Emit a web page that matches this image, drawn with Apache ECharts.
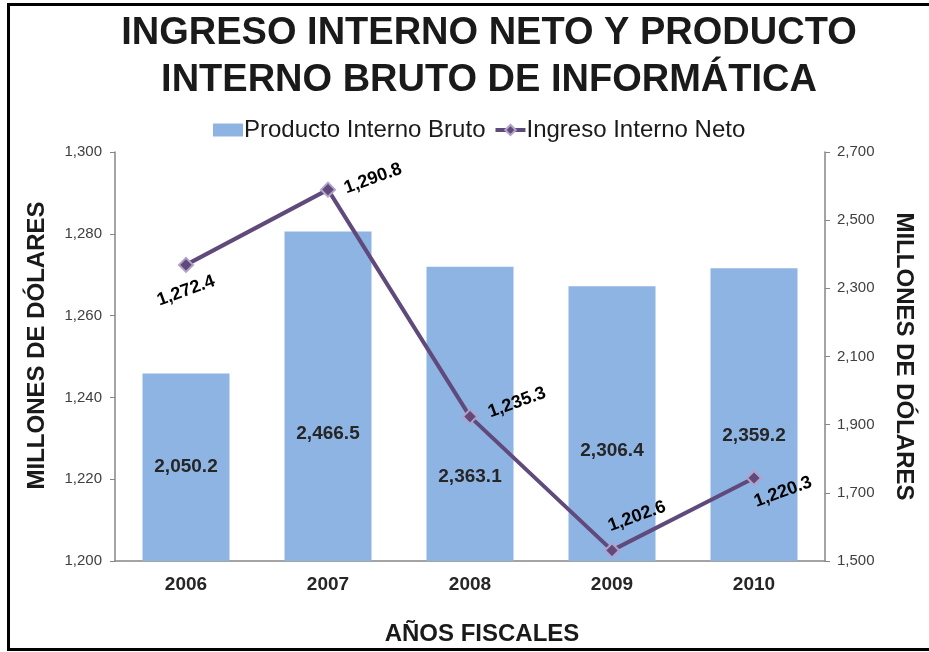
<!DOCTYPE html>
<html>
<head>
<meta charset="utf-8">
<script src="https://cdn.jsdelivr.net/npm/echarts@6/dist/echarts.min.js"></script>
<style>
  html, body { margin: 0; padding: 0; background: #fff; }
  #chart { width: 929px; height: 652px; }
</style>
</head>
<body>
<div id="chart"></div>
<script>
  // datos
  const years = ['2006', '2007', '2008', '2009', '2010']
  const pib = [2050.2, 2466.5, 2363.1, 2306.4, 2359.2]   // Producto Interno Bruto (eje derecho)
  const iin = [1272.4, 1290.8, 1235.3, 1202.6, 1220.3]   // Ingreso Interno Neto (eje izquierdo)

  // desplazamiento de las etiquetas (como quedaron movidas a mano en el original)
  const barLabelShift = [0, 37, 63, 27, 21]
  const lineLabelShift = [[0, 26], [45, -11], [47, -14], [25, -34], [29, 14]]
  const labelRot = 20

  const fmt = v => v.toLocaleString('en-US', { minimumFractionDigits: 1, maximumFractionDigits: 1 })
  const fmtAxis = v => v.toLocaleString('en-US')

  // el offset de zrender gira junto con la etiqueta, asi que lo giramos al reves
  function unrotate(p) {
    const a = labelRot * Math.PI / 180
    const c = Math.cos(a), s = Math.sin(a)
    return [p[0] * c - p[1] * s, p[0] * s + p[1] * c]
  }

  const font = '"Liberation Sans", Arial, sans-serif'
  const purple = '#604A7B'
  const lilac = '#B3A2C7'

  const chart = echarts.init(document.getElementById('chart'))
  chart.setOption({
    animation: false,
    textStyle: { fontFamily: font },
    title: {
      text: 'INGRESO INTERNO NETO Y PRODUCTO\nINTERNO BRUTO DE INFORMÁTICA',
      left: 484,
      textAlign: 'center',
      top: 5,
      textStyle: { fontSize: 38, fontWeight: 'bold', color: '#1a1a1a', lineHeight: 47, fontFamily: font }
    },
    legend: {
      top: 113,
      left: 208,
      itemWidth: 30,
      itemHeight: 13,
      itemGap: 8,
      textStyle: { fontSize: 24, color: '#1a1a1a', fontFamily: font, padding: [0, 0, 0, -4] },
      data: [
        { name: 'Producto Interno Bruto', icon: 'rect' },
        {
          name: 'Ingreso Interno Neto',
          lineStyle: { width: 4, color: purple },
          itemStyle: { color: purple, borderColor: lilac, borderWidth: 2 }
        }
      ]
    },
    graphic: [{
      type: 'rect',
      shape: { x: 8.5, y: 4.5, width: 940, height: 645 },
      style: { fill: 'none', stroke: '#000', lineWidth: 3 },
      silent: true
    }],
    grid: { left: 115, right: 104, top: 152, bottom: 91, outerBoundsMode: 'none', containLabel: false },
    xAxis: {
      type: 'category',
      data: years,
      axisLine: { lineStyle: { color: '#868686', width: 1.5 } },
      axisTick: { show: false },
      axisLabel: { fontSize: 19, fontWeight: 'bold', color: '#262626', margin: 14 },
      name: 'AÑOS FISCALES',
      nameLocation: 'middle',
      nameGap: 61,
      nameTextStyle: { fontSize: 24, fontWeight: 'bold', color: '#1a1a1a', padding: [0, 0, 0, 24] }
    },
    yAxis: [
      {
        type: 'value',
        min: 1200, max: 1300, interval: 20,
        position: 'left',
        axisLine: { show: true, lineStyle: { color: '#868686', width: 1.5 } },
        axisTick: { show: true, length: 5, lineStyle: { color: '#868686' } },
        splitLine: { show: false },
        axisLabel: { fontSize: 15, color: '#404040', margin: 13, formatter: fmtAxis },
        name: 'MILLONES DE DÓLARES',
        nameLocation: 'middle',
        nameRotate: 90,
        nameGap: 66,
        nameTextStyle: { fontSize: 24, fontWeight: 'bold', color: '#1a1a1a', padding: [0, 0, 0, 22] }
      },
      {
        type: 'value',
        min: 1500, max: 2700, interval: 200,
        position: 'right',
        axisLine: { show: true, lineStyle: { color: '#868686', width: 1.5 } },
        axisTick: { show: true, length: 5, lineStyle: { color: '#868686' } },
        splitLine: { show: false },
        axisLabel: { fontSize: 15, color: '#404040', margin: 12, formatter: fmtAxis },
        name: 'MILLONES DE DÓLARES',
        nameLocation: 'middle',
        nameRotate: -90,
        nameGap: 67,
        nameTextStyle: { fontSize: 24, fontWeight: 'bold', color: '#1a1a1a' }
      }
    ],
    series: [
      {
        name: 'Producto Interno Bruto',
        type: 'bar',
        yAxisIndex: 1,
        barWidth: 87,
        itemStyle: { color: '#8EB4E3' },
        data: pib.map((v, i) => ({
          value: v,
          label: { offset: [0, barLabelShift[i]] }
        })),
        label: {
          show: true,
          position: 'inside',
          fontSize: 19,
          fontWeight: 'bold',
          color: '#262626',
          formatter: p => fmt(p.value)
        }
      },
      {
        name: 'Ingreso Interno Neto',
        type: 'line',
        yAxisIndex: 0,
        symbol: 'diamond',
        symbolSize: 14,
        lineStyle: { color: purple, width: 4 },
        itemStyle: { color: purple, borderColor: lilac, borderWidth: 2 },
        data: iin.map((v, i) => ({
          value: v,
          label: { offset: unrotate(lineLabelShift[i]) }
        })),
        label: {
          show: true,
          position: 'inside',
          rotate: labelRot,
          align: 'center',
          verticalAlign: 'middle',
          fontSize: 18,
          fontWeight: 'bold',
          color: '#000',
          formatter: p => fmt(p.value)
        }
      }
    ]
  })
</script>
</body>
</html>
